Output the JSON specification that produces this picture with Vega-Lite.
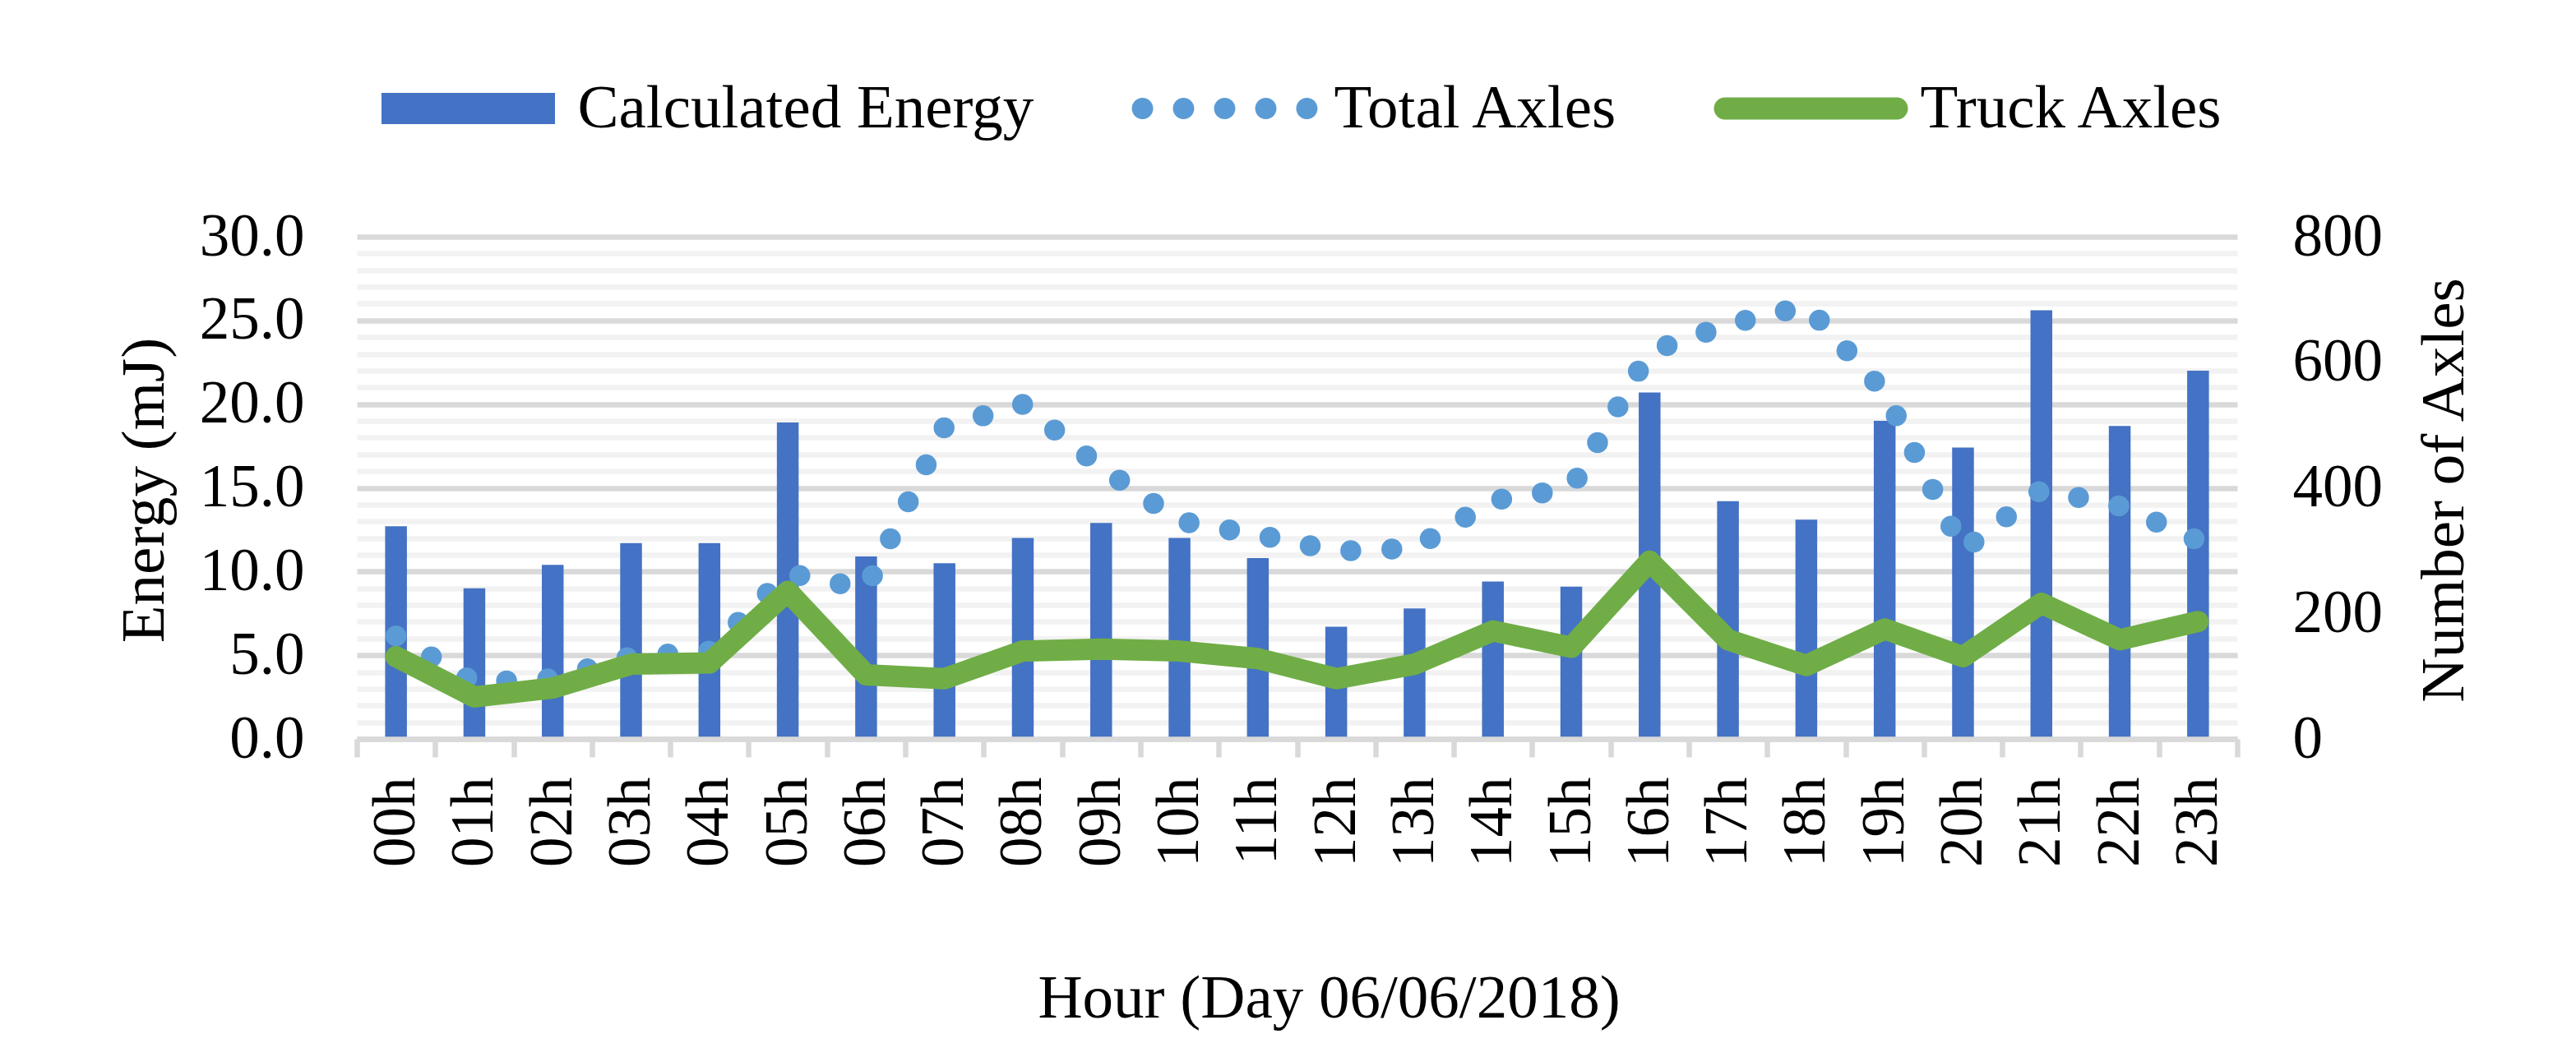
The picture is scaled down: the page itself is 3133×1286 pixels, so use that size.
{
  "$schema": "https://vega.github.io/schema/vega-lite/v6.json",
  "width": 2287,
  "height": 611,
  "autosize": {"type": "none"},
  "padding": {"left": 434, "top": 288, "right": 412, "bottom": 387},
  "background": "white",
  "config": {
    "view": {"stroke": null},
    "font": "Liberation Serif",
    "axis": {
      "labelFont": "Liberation Serif",
      "labelColor": "#000000",
      "labelFontSize": 73,
      "titleFont": "Liberation Serif",
      "titleColor": "#000000",
      "titleFontSize": 75,
      "titleFontWeight": "normal"
    }
  },
  "data": {
    "values": [
      {"hour": "00h", "energy": 12.7, "total": 164, "truck": 131},
      {"hour": "01h", "energy": 9.0, "total": 90, "truck": 67},
      {"hour": "02h", "energy": 10.4, "total": 96, "truck": 81},
      {"hour": "03h", "energy": 11.7, "total": 131, "truck": 119},
      {"hour": "04h", "energy": 11.7, "total": 140, "truck": 121},
      {"hour": "05h", "energy": 18.9, "total": 264, "truck": 235},
      {"hour": "06h", "energy": 10.9, "total": 239, "truck": 102},
      {"hour": "07h", "energy": 10.5, "total": 497, "truck": 96},
      {"hour": "08h", "energy": 12.0, "total": 533, "truck": 140},
      {"hour": "09h", "energy": 12.9, "total": 432, "truck": 143},
      {"hour": "10h", "energy": 12.0, "total": 347, "truck": 140},
      {"hour": "11h", "energy": 10.8, "total": 325, "truck": 128},
      {"hour": "12h", "energy": 6.7, "total": 299, "truck": 96},
      {"hour": "13h", "energy": 7.8, "total": 304, "truck": 119},
      {"hour": "14h", "energy": 9.4, "total": 380, "truck": 172},
      {"hour": "15h", "energy": 9.1, "total": 399, "truck": 146},
      {"hour": "16h", "energy": 20.7, "total": 617, "truck": 283},
      {"hour": "17h", "energy": 14.2, "total": 660, "truck": 158},
      {"hour": "18h", "energy": 13.1, "total": 690, "truck": 117},
      {"hour": "19h", "energy": 19.0, "total": 552, "truck": 175},
      {"hour": "20h", "energy": 17.4, "total": 300, "truck": 131},
      {"hour": "21h", "energy": 25.6, "total": 397, "truck": 216},
      {"hour": "22h", "energy": 18.7, "total": 371, "truck": 158},
      {"hour": "23h", "energy": 22.0, "total": 316, "truck": 187}
    ]
  },
  "encoding": {
    "x": {
      "field": "hour",
      "type": "nominal",
      "sort": null,
      "scale": {"type": "band", "paddingInner": 0, "paddingOuter": 0},
      "axis": {
        "title": "Hour (Day 06/06/2018)",
        "titleX": 1182,
        "titleY": 338,
        "titleAlign": "center",
        "titleBaseline": "alphabetic",
        "labelAngle": -90,
        "labelPadding": 24,
        "domainColor": "#D9D9D9",
        "domainWidth": 6.5,
        "ticks": true,
        "tickBand": "extent",
        "tickColor": "#D9D9D9",
        "tickWidth": 6.5,
        "tickSize": 22,
        "grid": false,
        "zindex": 1
      }
    }
  },
  "layer": [
    {
      "mark": {"type": "bar", "width": {"band": 0.278}, "color": "#4472C4"},
      "encoding": {
        "y": {
          "field": "energy",
          "type": "quantitative",
          "scale": {"domain": [0, 30], "nice": false, "zero": true},
          "axis": {
            "title": "Energy (mJ)",
            "titleAngle": -90,
            "titleX": -236,
            "titleY": 308,
            "titleAlign": "center",
            "titleBaseline": "alphabetic",
            "values": [0,1,2,3,4,5,6,7,8,9,10,11,12,13,14,15,16,17,18,19,20,21,22,23,24,25,26,27,28,29,30],
            "labelExpr": "datum.value % 5 === 0 ? format(datum.value, '.1f') : ''",
            "labelOverlap": false,
            "labelBound": false,
            "labelPadding": 64,
            "ticks": false,
            "tickSize": 0,
            "domain": false,
            "grid": true,
            "gridWidth": 6.5,
            "gridColor": {"condition": {"test": "datum.value % 5 === 0", "value": "#D9D9D9"}, "value": "#F2F2F2"}
          }
        },
        "color": {
          "datum": "Calculated Energy",
          "scale": {
            "domain": ["Calculated Energy", "Total Axles", "Truck Axles"],
            "range": ["#4472C4", "#5B9BD5", "#70AD47"]
          },
          "legend": {
            "orient": "none",
            "legendX": 17.5,
            "legendY": -274,
            "direction": "horizontal",
            "title": null,
            "padding": 0,
            "symbolSize": 55696,
            "symbolStrokeWidth": 0,
            "labelFont": "Liberation Serif",
            "labelFontSize": 75,
            "labelColor": "#000000",
            "labelOffset": 15,
            "labelLimit": 3000,
            "columnPadding": 114,
            "encode": {
              "symbols": {
                "update": {
                  "shape": {"signal": "datum.value === 'Calculated Energy' ? 'M-0.894,-0.161L0.894,-0.161L0.894,0.161L-0.894,0.161Z' : datum.value === 'Total Axles' ? 'M-0.957,0A0.11,0.11 0 1 0 -0.737,0A0.11,0.11 0 1 0 -0.957,0ZM-0.534,0A0.11,0.11 0 1 0 -0.314,0A0.11,0.11 0 1 0 -0.534,0ZM-0.11,0A0.11,0.11 0 1 0 0.11,0A0.11,0.11 0 1 0 -0.11,0ZM0.314,0A0.11,0.11 0 1 0 0.534,0A0.11,0.11 0 1 0 0.314,0ZM0.737,0A0.11,0.11 0 1 0 0.957,0A0.11,0.11 0 1 0 0.737,0Z' : 'M-0.886,-0.114L0.886,-0.114A0.114,0.114 0 0 1 0.886,0.114L-0.886,0.114A0.114,0.114 0 0 1 -0.886,-0.114Z'"},
                  "fill": {"scale": "color", "field": "value"},
                  "fillOpacity": {"value": 1},
                  "opacity": {"value": 1},
                  "stroke": {"value": "transparent"},
                  "strokeWidth": {"value": 0}
                }
              }
            }
          }
        }
      }
    },
    {
      "mark": {"type": "line", "strokeWidth": 25.5, "strokeDash": [0, 50], "strokeCap": "round", "strokeJoin": "round"},
      "encoding": {
        "y": {
          "field": "total",
          "type": "quantitative",
          "scale": {"domain": [0, 800], "nice": false},
          "axis": {
            "orient": "right",
            "title": "Number of Axles",
            "titleAngle": -90,
            "titleX": 274,
            "titleY": 308,
            "titleAlign": "center",
            "titleBaseline": "alphabetic",
            "values": [0, 200, 400, 600, 800],
            "labelPadding": 67,
            "labelOverlap": false,
            "labelBound": false,
            "ticks": false,
            "tickSize": 0,
            "domain": false,
            "grid": false
          }
        },
        "color": {"datum": "Total Axles"}
      }
    },
    {
      "mark": {"type": "line", "strokeWidth": 26, "strokeCap": "round", "strokeJoin": "round"},
      "encoding": {
        "y": {
          "field": "truck",
          "type": "quantitative",
          "scale": {"domain": [0, 800], "nice": false},
          "axis": null
        },
        "color": {"datum": "Truck Axles"}
      }
    }
  ],
  "resolve": {"scale": {"y": "independent"}}
}
